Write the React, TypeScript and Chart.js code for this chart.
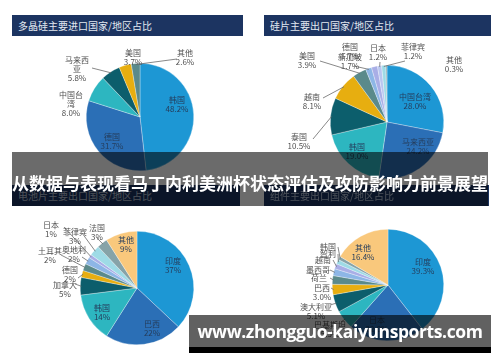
import React, { useEffect, useRef } from "react";
import { Chart, registerables } from "chart.js";
Chart.register(...registerables);

// ---------- data ----------
const c1Title = "多晶硅主要进口国家/地区占比";
const c1Names = ["韩国", "德国", "中国台\n湾", "马来西\n亚", "美国", "其他"];
const c1Values = [48.2, 31.7, 8.0, 5.8, 3.7, 2.6];

const c2Title = "硅片主要出口国家/地区占比";
const c2Names = ["中国台湾", "马来西亚", "韩国", "泰国", "越南", "美国", "德国", "新加坡", "日本", "菲律宾", "其他"];
const c2Values = [28.0, 24.2, 19.0, 10.5, 8.1, 3.9, 1.7, 1.7, 1.2, 1.2, 0.3];

const c3Title = "电池片主要出口国家/地区占比";
const c3Names = ["印度", "巴西", "韩国", "加拿大", "德国", "土耳其", "奥地利", "日本", "菲律宾", "法国", "其他"];
const c3Values = [37, 22, 14, 5, 2, 2, 2, 1, 3, 3, 9];

const c4Title = "组件主要出口国家/地区占比";
const c4Names = ["印度", "日本", "巴基斯坦", "澳大利亚", "巴西", "荷兰", "墨西哥", "越南", "智利", "韩国", "其他"];
const c4Values = [39.3, 22.0, 5.5, 5.1, 3.0, 2.5, 2.0, 1.5, 1.3, 1.0, 16.4];

const mainTitle = "从数据与表现看马丁内利美洲杯状态评估及攻防影响力前景展望";
const siteUrl = "www.zhongguo-kaiyunsports.com";

// ---------- styles ----------
const BLUE1 = "#1d97d4";
const BLUE2 = "#2b6fb6";
const TEAL = "#2db6c0";
const DTEAL = "#0c5e6c";
const GOLD = "#e7ae10";
const GTEAL = "#5a8a8b";
const LBLUE = "#8db6e6";
const LAV = "#a9aee6";
const CYAN = "#9edbe6";
const GRAY = "#86a3a8";
const ORANGE = "#f9c87c";

const c1Colors = [BLUE1, BLUE2, TEAL, DTEAL, GOLD, GTEAL];
const c2Colors = [BLUE1, BLUE2, TEAL, DTEAL, GOLD, GTEAL, LBLUE, LAV, "#b9c6f0", CYAN, GRAY];
const c3Colors = [BLUE1, BLUE2, TEAL, DTEAL, GOLD, GTEAL, LBLUE, LAV, CYAN, GRAY, ORANGE];
const c4Colors = [BLUE1, BLUE2, TEAL, DTEAL, GOLD, GTEAL, LBLUE, LAV, CYAN, GRAY, ORANGE];

type Lay = { dx: number; dy: number; inner?: boolean; lead?: [number, number]; pct?: boolean; name?: boolean };

// label layout: offsets from the pie centre
const c1Layout: Lay[] = [
  { dx: 37, dy: -17, inner: true },
  { dx: -28, dy: 20, inner: true },
  { dx: -69, dy: -22 },
  { dx: -63, dy: -57, lead: [-48, -49] },
  { dx: -7, dy: -64 },
  { dx: 45, dy: -64, lead: [37, -58] },
];
const c2Layout: Lay[] = [
  { dx: 28, dy: -25, inner: true },
  { dx: 31, dy: 20, inner: true },
  { dx: -30, dy: 25, inner: true },
  { dx: -88, dy: 15, lead: [-74, 17] },
  { dx: -75, dy: -25, lead: [-64, -24] },
  { dx: -80, dy: -66, lead: [-67, -61] },
  { dx: -37, dy: -75, lead: [-33, -56] },
  { dx: -37, dy: -65 },
  { dx: -9, dy: -74, lead: [-7, -60] },
  { dx: 26, dy: -75, lead: [18, -61] },
  { dx: 67, dy: -62 },
];
const c3Layout: Lay[] = [
  { dx: 36, dy: -27, inner: true },
  { dx: 15, dy: 36, inner: true },
  { dx: -35, dy: 20, inner: true },
  { dx: -72, dy: -3, lead: [-62, -4] },
  { dx: -67, dy: -18, lead: [-59, -10] },
  { dx: -87, dy: -37, lead: [-76, -33] },
  { dx: -63, dy: -38, lead: [-55, -31] },
  { dx: -86, dy: -63, lead: [-73, -61] },
  { dx: -62, dy: -56, lead: [-55, -55] },
  { dx: -40, dy: -60, lead: [-40, -50] },
  { dx: -11, dy: -48, inner: true },
];
const c4Layout: Lay[] = [
  { dx: 35, dy: -23, inner: true },
  { dx: -11, dy: 35, inner: true },
  { dx: -58, dy: 40, lead: [-47, 37] },
  { dx: -72, dy: 22, lead: [-58, 20] },
  { dx: -66, dy: 3, lead: [-57, 3] },
  { dx: -69, dy: -7, pct: false, lead: [-58, -7] },
  { dx: -70, dy: -15, pct: false, lead: [-58, -15] },
  { dx: -65, dy: -25, pct: false, lead: [-55, -25] },
  { dx: -60, dy: -31, pct: false, lead: [-50, -31] },
  { dx: -60, dy: -38, pct: false, lead: [-50, -38] },
  { dx: -25, dy: -37, inner: true },
];

const CJK = "'Noto Sans CJK SC', 'Noto Sans', sans-serif";

function makeLabelPlugin(names: string[], layout: Lay[], decimals: number) {
  return {
    id: "pieLabels",
    afterDatasetsDraw(chart: any) {
      const meta = chart.getDatasetMeta(0);
      const values = chart.data.datasets[0].data as number[];
      const ctx = chart.ctx as CanvasRenderingContext2D;
      ctx.save();
      ctx.font = `8px ${CJK}`;
      ctx.textAlign = "center";
      ctx.textBaseline = "middle";
      meta.data.forEach((arc: any, i: number) => {
        const L = layout[i];
        if (!L) return;
        const p = arc.getProps(["x", "y", "startAngle", "endAngle", "outerRadius"], true);
        const mid = (p.startAngle + p.endAngle) / 2;
        if (L.lead) {
          ctx.strokeStyle = "#6a6a6a";
          ctx.lineWidth = 0.8;
          ctx.beginPath();
          ctx.moveTo(p.x + Math.cos(mid) * p.outerRadius * 0.98, p.y + Math.sin(mid) * p.outerRadius * 0.98);
          ctx.lineTo(p.x + L.lead[0], p.y + L.lead[1]);
          ctx.stroke();
        }
        const lines: string[] = L.name === false ? [] : names[i].split("\n");
        if (L.pct !== false) lines.push(values[i].toFixed(decimals) + "%");
        ctx.fillStyle = L.inner ? "#253d5c" : "#505050";
        lines.forEach((ln, k) => ctx.fillText(ln, p.x + L.dx, p.y + L.dy + k * 9));
      });
      ctx.restore();
    },
  };
}

type PieProps = {
  left: number; top: number; width: number; height: number;
  pad: { left: number; right: number; top: number; bottom: number };
  names: string[]; values: number[]; colors: string[]; layout: Lay[]; decimals: number;
};

function Pie(props: PieProps) {
  const ref = useRef<HTMLCanvasElement>(null);
  useEffect(() => {
    const chart = new Chart(ref.current!, {
      type: "pie",
      data: {
        labels: props.names.map((n) => n.replace("\n", "")),
        datasets: [{ data: props.values, backgroundColor: props.colors, borderColor: "rgba(255,255,255,0.6)", borderWidth: 0.5 }],
      },
      options: {
        responsive: false,
        animation: false,
        layout: { padding: props.pad },
        plugins: { legend: { display: false }, tooltip: { enabled: false } },
      },
      plugins: [makeLabelPlugin(props.names, props.layout, props.decimals)],
    });
    return () => chart.destroy();
  }, []);
  return (
    <canvas
      ref={ref}
      width={props.width}
      height={props.height}
      style={{ position: "absolute", left: props.left, top: props.top, width: props.width, height: props.height }}
    />
  );
}

function TitleBar({ x, y, w, h, text, dim }: { x: number; y: number; w: number; h: number; text: string; dim?: boolean }) {
  return (
    <div
      style={{
        position: "absolute", left: x, top: y, width: w, height: h, background: "#1c3461",
        color: dim ? "rgba(230,236,245,0.75)" : "#e3e9f1", fontFamily: CJK, fontSize: 10,
        lineHeight: h + "px", paddingLeft: 6, boxSizing: "border-box", whiteSpace: "nowrap", overflow: "hidden",
      }}
    >
      {text}
    </div>
  );
}

export default function App() {
  return (
    <div style={{ position: "fixed", left: 0, top: 0, width: 500, height: 362, background: "#fff", overflow: "hidden" }}>
      <TitleBar x={12} y={15} w={231} h={21} text={c1Title} />
      <TitleBar x={264} y={15} w={227} h={21} text={c2Title} />
      <Pie left={0} top={36} width={250} height={150} pad={{ left: 86, right: 56, top: 27, bottom: 15 }}
        names={c1Names} values={c1Values} colors={c1Colors} layout={c1Layout} decimals={1} />
      <Pie left={250} top={36} width={250} height={150} pad={{ left: 80, right: 56, top: 29, bottom: 7 }}
        names={c2Names} values={c2Values} colors={c2Colors} layout={c2Layout} decimals={1} />
      <Pie left={0} top={206} width={250} height={156} pad={{ left: 80, right: 56, top: 25, bottom: 17 }}
        names={c3Names} values={c3Values} colors={c3Colors} layout={c3Layout} decimals={0} />
      <Pie left={250} top={206} width={250} height={156} pad={{ left: 82, right: 56, top: 23, bottom: 21 }}
        names={c4Names} values={c4Values} colors={c4Colors} layout={c4Layout} decimals={1} />
      <TitleBar x={12} y={185} w={228} h={21} text={c3Title} dim />
      <TitleBar x={264} y={185} w={225} h={21} text={c4Title} dim />
      <div style={{ position: "absolute", left: 12, top: 152, width: 476, height: 54, background: "rgba(0,0,0,0.58)" }} />
      <div
        style={{
          position: "absolute", left: 0, top: 172, width: 500, height: 22, color: "#fff", fontFamily: CJK,
          fontWeight: 700, fontSize: 17, lineHeight: "22px", whiteSpace: "nowrap", textAlign: "center",
        }}
      >
        {mainTitle}
      </div>
      <div style={{ position: "absolute", left: 189, top: 315, width: 302, height: 32, background: "rgba(0,0,0,0.62)" }} />
      <div style={{ position: "absolute", left: 189, top: 347, width: 302, height: 6, background: "#000" }} />
      <div
        style={{
          position: "absolute", left: 189, top: 315, width: 302, height: 32, color: "#fff",
          fontFamily: "'Open Sans', sans-serif", fontWeight: 700, fontSize: 17.5, lineHeight: "32px",
          whiteSpace: "nowrap", textAlign: "center", letterSpacing: -0.4,
        }}
      >
        {siteUrl}
      </div>
    </div>
  );
}
